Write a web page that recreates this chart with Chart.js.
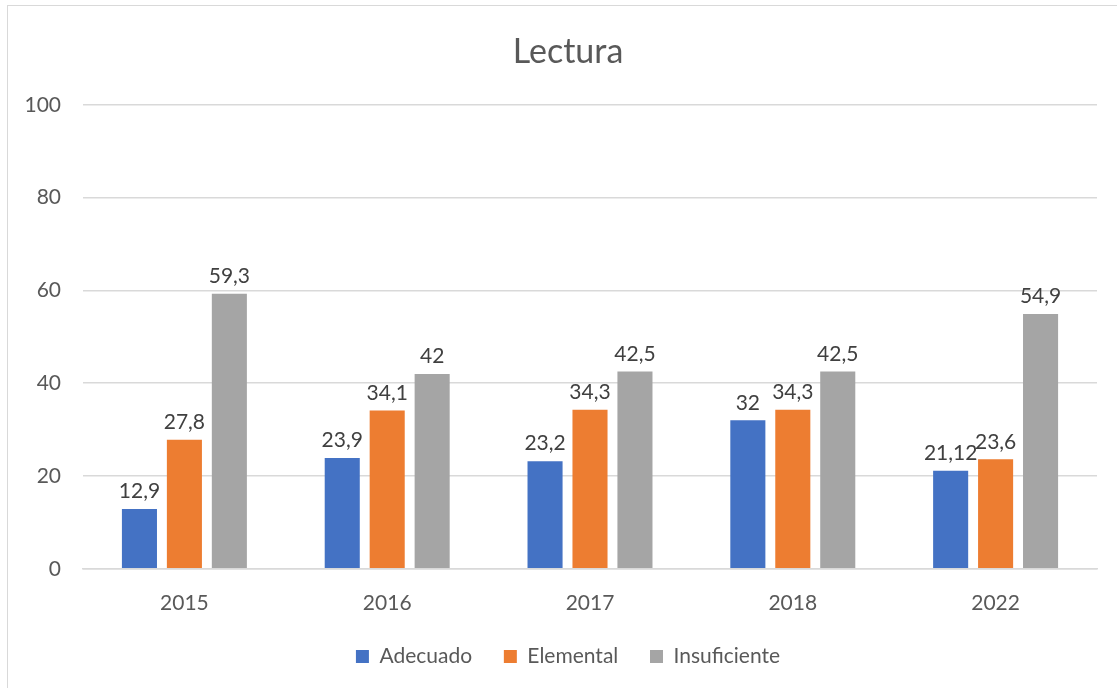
<!DOCTYPE html>
<html>
<head>
<meta charset="utf-8">
<script src="https://cdn.jsdelivr.net/npm/chart.js@4.4.1/dist/chart.umd.min.js"></script>
<style>
    body { margin: 0; background: #ffffff; overflow: hidden; }
    #frame {
        position: absolute;
        left: 7px;
        top: 5px;
        width: 1123px;
        height: 690px;
        border: 1.5px solid #d9d9d9;
        box-sizing: border-box;
    }
    #chart { display: block; }
</style>
</head>
<body>
<div id="frame"><canvas id="chart" width="1120" height="687"></canvas></div>
<script>
// Datos
const years = ["2015", "2016", "2017", "2018", "2022"];
const adecuado = [12.9, 23.9, 23.2, 32, 21.12];
const elemental = [27.8, 34.1, 34.3, 34.3, 23.6];
const insuficiente = [59.3, 42, 42.5, 42.5, 54.9];
const yTicks = [0, 20, 40, 60, 80, 100];

const textColor = "#595959";
const fontFamily = "Lato, 'Open Sans', sans-serif";

// Espacio extra a la derecha de cada texto de la leyenda
const legendGaps = ["\u2002\u2009\u2009", "\u2002\u2009\u2009", ""];

// Etiquetas de datos encima de cada barra (con coma decimal)
const barLabels = {
    id: "barLabels",
    afterDatasetsDraw(chart) {
        const ctx = chart.ctx;
        ctx.save();
        ctx.font = "21px " + fontFamily;
        ctx.fillStyle = "#404040";
        ctx.textAlign = "center";
        ctx.textBaseline = "bottom";
        chart.data.datasets.forEach((ds, i) => {
            const meta = chart.getDatasetMeta(i);
            meta.data.forEach((bar, j) => {
                const label = String(ds.data[j]).replace(".", ",");
                ctx.fillText(label, bar.x, bar.y - 7);
            });
        });
        ctx.restore();
    }
};

new Chart(document.getElementById("chart"), {
    type: "bar",
    data: {
        labels: years,
        datasets: [
            { label: "Adecuado", data: adecuado, backgroundColor: "#4472C4" },
            { label: "Elemental", data: elemental, backgroundColor: "#ED7D31" },
            { label: "Insuficiente", data: insuficiente, backgroundColor: "#A5A5A5" }
        ]
    },
    options: {
        responsive: false,
        animation: false,
        datasets: {
            bar: { categoryPercentage: 0.665, barPercentage: 0.78 }
        },
        layout: { padding: { left: 0, right: 0, top: 12, bottom: 16 } },
        plugins: {
            title: {
                display: true,
                text: "Lectura",
                color: textColor,
                font: { family: fontFamily, size: 34, weight: "normal" },
                padding: { top: 14, bottom: 32 }
            },
            legend: {
                position: "bottom",
                labels: {
                    color: textColor,
                    font: { family: fontFamily, size: 21 },
                    boxWidth: 13,
                    boxHeight: 13,
                    padding: 16,
                    generateLabels(chart) {
                        const items = Chart.defaults.plugins.legend.labels.generateLabels(chart);
                        items.forEach((item, i) => {
                            item.text = item.text + legendGaps[i];
                        });
                        return items;
                    }
                }
            },
            tooltip: { enabled: false }
        },
        scales: {
            x: {
                grid: { display: false },
                border: { color: "#d9d9d9", width: 1.5 },
                ticks: {
                    color: textColor,
                    font: { family: fontFamily, size: 21 },
                    padding: 14
                }
            },
            y: {
                min: 0,
                max: 100,
                afterBuildTicks(scale) {
                    scale.ticks = yTicks.map(v => ({ value: v }));
                },
                afterFit(scale) {
                    scale.width = 75;
                },
                grid: { color: "#d9d9d9", lineWidth: 1.5, drawTicks: false },
                border: { display: false },
                ticks: {
                    color: textColor,
                    font: { family: fontFamily, size: 21 },
                    padding: 22
                }
            },
            // eje vacío a la derecha: sólo reserva el margen del área de barras
            yRight: {
                position: "right",
                min: 0,
                max: 100,
                afterFit(scale) {
                    scale.width = 31;
                },
                grid: { display: false },
                border: { display: false },
                ticks: { display: false }
            }
        }
    },
    plugins: [barLabels]
});
</script>
</body>
</html>
